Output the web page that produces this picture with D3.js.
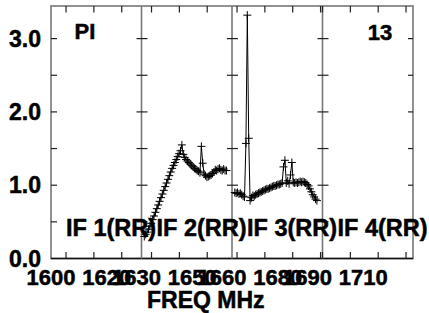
<!DOCTYPE html>
<html lang="en">
<head>
  <meta charset="utf-8">
  <title>POSSM amplitude</title>
  <script src="https://d3js.org/d3.v7.min.js"></script>
  <style>
    body { margin: 0; background: #fff; }
    text { font-family: "Liberation Sans", Arial, Helvetica, sans-serif; font-weight: bold; fill: #000; stroke: #000; stroke-width: 0.5; }
    .frame { fill: none; stroke: #777; stroke-width: 1.6; }
    .tick { stroke: #222; stroke-width: 1.2; }
    .spec { fill: none; stroke: #000; stroke-width: 1; }
    .mark { fill: none; stroke: #000; stroke-width: 1; }
  </style>
</head>
<body>
<svg width="429" height="313"></svg>
<script>
// IF layout (MHz)
var ifNames = ["IF 1(RR)", "IF 2(RR)", "IF 3(RR)", "IF 4(RR)"];
var ifStart = [1594.6, 1626.4, 1658.2, 1690.0];
var ifSpan = 32.5;
var chanOffset = 1.0, chanWidth = 0.5;

// amplitude per channel (IF 1 and IF 4 have no data)
var if1 = [];
var if2 = [0.30, 0.33, 0.36, 0.40, 0.44, 0.48, 0.53, 0.58, 0.63, 0.68,
           0.73, 0.78, 0.83, 0.88, 0.93, 0.98, 1.03, 1.08, 1.13, 1.18,
           1.23, 1.27, 1.31, 1.35, 1.39, 1.43, 1.47, 1.55, 1.42, 1.38,
           1.35, 1.33, 1.31, 1.29, 1.27, 1.25, 1.23, 1.22, 1.20, 1.19,
           1.17, 1.53, 1.30, 1.15, 1.13, 1.11, 1.12, 1.13, 1.14, 1.16,
           1.18, 1.21, 1.20, 1.22, 1.23, 1.21, 1.20, 1.22, 1.20, 1.20];
var if3 = [0.90, 0.89, 0.90, 0.88, 0.89, 0.87, 0.85, 0.84, 1.57, 3.32,
           1.64, 0.79, 0.83, 0.86, 0.85, 0.87, 0.88, 0.89, 0.90, 0.91,
           0.92, 0.93, 0.94, 0.95, 0.95, 0.96, 0.97, 0.98, 0.99, 0.99,
           1.00, 1.01, 1.01, 1.02, 1.03, 1.25, 1.34, 1.03, 1.06, 1.02,
           1.14, 1.31, 1.04, 1.03, 1.04, 1.03, 1.04, 1.05, 1.04, 1.05,
           1.04, 1.03, 1.01, 0.99, 0.95, 0.91, 0.87, 0.84, 0.81, 0.79];
var if4 = [];
var ifData = [if1, if2, if3, if4];

var xTickStep = 10;
var xLabels = [[1600, 1620], [1630, 1650], [1660, 1680], [1690, 1710]];
var yTicks = [0.5, 1.0, 1.5, 2.0, 2.5, 3.0];
var yLabels = [0.0, 1.0, 2.0, 3.0];

var svg = d3.select("svg"),
    plotL = 51, plotR = 413, plotT = 6, plotB = 258.5,
    panelW = (plotR - plotL) / 4;

var y = d3.scaleLinear().domain([0, 3.445]).range([plotB, plotT]);

var xs = ifStart.map(function(f, k) {
  return d3.scaleLinear().domain([f, f + ifSpan]).range([plotL + k * panelW, plotL + (k + 1) * panelW]);
});

// frame and dividers
svg.append("rect").attr("class", "frame")
  .attr("x", plotL).attr("y", plotT).attr("width", plotR - plotL).attr("height", plotB - plotT);
svg.append("line").attr("x1", plotL).attr("x2", plotR).attr("y1", plotB).attr("y2", plotB)
  .attr("stroke", "#111").attr("stroke-width", 1.3);
for (var k = 1; k < 4; k++) {
  svg.append("line").attr("class", "frame")
    .attr("x1", plotL + k * panelW).attr("x2", plotL + k * panelW).attr("y1", plotT).attr("y2", plotB);
}

// y ticks on every panel edge
for (var k = 0; k <= 4; k++) {
  var ex = plotL + k * panelW;
  var l = k == 0 ? 0 : 5, r = k == 4 ? 0 : 6;
  svg.selectAll(null).data(yTicks).enter().append("line").attr("class", "tick")
    .attr("x1", ex - l).attr("x2", ex + r)
    .attr("y1", function(d) { return y(d); }).attr("y2", function(d) { return y(d); });
}

svg.selectAll(".ylab").data(yLabels).enter().append("text").attr("class", "ylab")
  .attr("x", 41).attr("y", function(d) { return y(d); }).attr("dy", "0.36em")
  .attr("text-anchor", "end").style("font-size", "23px")
  .text(d3.format(".1f"));

// x ticks and labels per IF
xs.forEach(function(x, k) {
  var d0 = x.domain();
  var ticks = d3.range(Math.ceil(d0[0] / xTickStep) * xTickStep, d0[1], xTickStep);
  ticks.forEach(function(t) {
    svg.append("line").attr("class", "tick").attr("x1", x(t)).attr("x2", x(t)).attr("y1", plotT).attr("y2", plotT + 6.5);
    svg.append("line").attr("class", "tick").attr("x1", x(t)).attr("x2", x(t)).attr("y1", plotB).attr("y2", plotB - 6.5);
  });
  xLabels[k].forEach(function(t) {
    svg.append("text").attr("x", x(t) - 15).attr("y", 285)
      .attr("text-anchor", "middle").style("font-size", "22px").text(t);
  });
  svg.append("text").attr("x", x.range()[0] + 15).attr("y", 236)
    .style("font-size", "23.5px").text(ifNames[k]);
});

// spectra
var line = d3.line();
ifData.forEach(function(vals, k) {
  if (!vals.length) return;
  var pts = vals.map(function(v, i) {
    return [xs[k](ifStart[k] + chanOffset + i * chanWidth), y(v)];
  });
  svg.append("path").attr("class", "spec").attr("d", line(pts));
  svg.selectAll(null).data(pts).enter().append("path").attr("class", "mark")
    .attr("d", function(p) { return "M" + (p[0] - 4) + "," + p[1] + "h8M" + p[0] + "," + (p[1] - 4) + "v8"; });
});

svg.append("text").attr("x", 85).attr("y", 39).attr("text-anchor", "middle")
  .style("font-size", "22px").text("PI");
svg.append("text").attr("x", 380).attr("y", 40).attr("text-anchor", "middle")
  .style("font-size", "22px").text("13");
svg.append("text").attr("x", 147).attr("y", 308).style("font-size", "23px").text("FREQ MHz");
</script>
</body>
</html>
